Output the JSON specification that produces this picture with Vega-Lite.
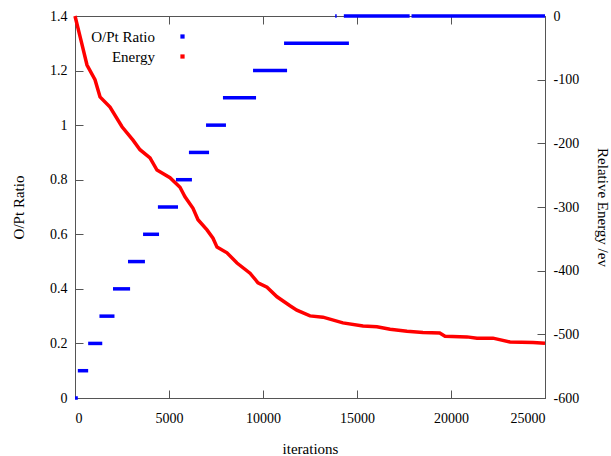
{
  "$schema": "https://vega.github.io/schema/vega-lite/v6.json",
  "width": 470,
  "height": 382,
  "autosize": {"type": "none"},
  "padding": {"left": 75, "top": 16, "right": 66, "bottom": 58},
  "background": "white",
  "config": {
    "font": "Liberation Serif",
    "view": {"stroke": "#555", "strokeWidth": 1},
    "axis": {
      "grid": false,
      "domainColor": "#555",
      "tickColor": "#555",
      "tickSize": -8,
      "labelFont": "Liberation Serif",
      "labelFontSize": 14,
      "labelColor": "#000",
      "titleFont": "Liberation Serif",
      "titleFontSize": 15,
      "titleFontWeight": "normal",
      "titleColor": "#000",
      "labelPadding": 16
    },
    "legend": {
      "labelFont": "Liberation Serif",
      "labelFontSize": 15,
      "labelColor": "#000"
    }
  },
  "datasets": {
    "ratio": [
      {"series": "O/Pt Ratio", "start": 0, "end": 150, "ratio": 0.0},
      {"series": "O/Pt Ratio", "start": 150, "end": 700, "ratio": 0.1},
      {"series": "O/Pt Ratio", "start": 700, "end": 1450, "ratio": 0.2},
      {"series": "O/Pt Ratio", "start": 1300, "end": 2100, "ratio": 0.3},
      {"series": "O/Pt Ratio", "start": 2020, "end": 2930, "ratio": 0.4},
      {"series": "O/Pt Ratio", "start": 2820, "end": 3720, "ratio": 0.5},
      {"series": "O/Pt Ratio", "start": 3620, "end": 4470, "ratio": 0.6},
      {"series": "O/Pt Ratio", "start": 4410, "end": 5480, "ratio": 0.7},
      {"series": "O/Pt Ratio", "start": 5370, "end": 6220, "ratio": 0.8},
      {"series": "O/Pt Ratio", "start": 6060, "end": 7130, "ratio": 0.9},
      {"series": "O/Pt Ratio", "start": 6970, "end": 8030, "ratio": 1.0},
      {"series": "O/Pt Ratio", "start": 7870, "end": 9630, "ratio": 1.1},
      {"series": "O/Pt Ratio", "start": 9470, "end": 11280, "ratio": 1.2},
      {"series": "O/Pt Ratio", "start": 11120, "end": 14570, "ratio": 1.3},
      {"series": "O/Pt Ratio", "start": 13840, "end": 13920, "ratio": 1.4},
      {"series": "O/Pt Ratio", "start": 14300, "end": 17800, "ratio": 1.4},
      {"series": "O/Pt Ratio", "start": 17900, "end": 25000, "ratio": 1.4}
    ],
    "energy": [
      {"series": "Energy", "iter": 0, "energy": 0},
      {"series": "Energy", "iter": 300, "energy": -36},
      {"series": "Energy", "iter": 638, "energy": -77},
      {"series": "Energy", "iter": 1064, "energy": -100},
      {"series": "Energy", "iter": 1330, "energy": -127},
      {"series": "Energy", "iter": 1862, "energy": -143},
      {"series": "Energy", "iter": 2500, "energy": -174},
      {"series": "Energy", "iter": 3085, "energy": -195},
      {"series": "Energy", "iter": 3457, "energy": -210},
      {"series": "Energy", "iter": 3990, "energy": -223},
      {"series": "Energy", "iter": 4360, "energy": -242},
      {"series": "Energy", "iter": 5053, "energy": -254},
      {"series": "Energy", "iter": 5585, "energy": -269},
      {"series": "Energy", "iter": 5851, "energy": -284},
      {"series": "Energy", "iter": 6277, "energy": -302},
      {"series": "Energy", "iter": 6543, "energy": -320},
      {"series": "Energy", "iter": 7021, "energy": -336},
      {"series": "Energy", "iter": 7340, "energy": -349},
      {"series": "Energy", "iter": 7553, "energy": -363},
      {"series": "Energy", "iter": 8085, "energy": -372},
      {"series": "Energy", "iter": 8617, "energy": -388},
      {"series": "Energy", "iter": 9309, "energy": -404},
      {"series": "Energy", "iter": 9734, "energy": -419},
      {"series": "Energy", "iter": 10213, "energy": -426},
      {"series": "Energy", "iter": 10745, "energy": -441},
      {"series": "Energy", "iter": 11436, "energy": -455},
      {"series": "Energy", "iter": 11800, "energy": -462},
      {"series": "Energy", "iter": 12500, "energy": -471},
      {"series": "Energy", "iter": 13190, "energy": -473},
      {"series": "Energy", "iter": 14250, "energy": -482},
      {"series": "Energy", "iter": 15320, "energy": -487},
      {"series": "Energy", "iter": 16060, "energy": -488},
      {"series": "Energy", "iter": 16760, "energy": -492},
      {"series": "Energy", "iter": 17660, "energy": -495},
      {"series": "Energy", "iter": 18510, "energy": -497},
      {"series": "Energy", "iter": 19400, "energy": -498},
      {"series": "Energy", "iter": 19680, "energy": -503},
      {"series": "Energy", "iter": 20851, "energy": -504},
      {"series": "Energy", "iter": 21383, "energy": -506},
      {"series": "Energy", "iter": 22234, "energy": -506},
      {"series": "Energy", "iter": 23138, "energy": -512},
      {"series": "Energy", "iter": 24362, "energy": -513},
      {"series": "Energy", "iter": 25000, "energy": -514}
    ]
  },
  "layer": [
    {
      "data": {"name": "ratio"},
      "mark": {"type": "rule", "strokeWidth": 3.5, "strokeCap": "butt", "clip": false},
      "encoding": {
        "x": {
          "field": "start", "type": "quantitative",
          "scale": {"domain": [0, 25000], "nice": false},
          "axis": {"orient": "bottom", "title": "iterations", "values": [0, 5000, 10000, 15000, 20000, 25000], "format": "d", "labelPadding": 21, "titlePadding": 16}
        },
        "x2": {"field": "end"},
        "y": {
          "field": "ratio", "type": "quantitative",
          "scale": {"domain": [0, 1.4], "nice": false},
          "axis": {"orient": "left", "title": "O/Pt Ratio", "values": [0, 0.2, 0.4, 0.6, 0.8, 1, 1.2, 1.4], "format": "~g", "titlePadding": 23}
        },
        "color": {
          "field": "series", "type": "nominal",
          "scale": {"domain": ["O/Pt Ratio", "Energy"], "range": ["#0000ff", "#ff0000"]},
          "legend": {
            "orient": "none", "legendX": 100, "legendY": 13,
            "title": null, "symbolType": "square", "symbolSize": 3, "symbolStrokeWidth": 2.5,
            "labelAlign": "right", "labelOffset": -35, "rowPadding": 4
          }
        }
      }
    },
    {
      "data": {"name": "energy"},
      "mark": {"type": "line", "strokeWidth": 3.5, "clip": false},
      "encoding": {
        "x": {
          "field": "iter", "type": "quantitative",
          "scale": {"domain": [0, 25000], "nice": false},
          "axis": {"orient": "top", "title": null, "labels": false, "values": [0, 5000, 10000, 15000, 20000, 25000], "domain": false}
        },
        "y": {
          "field": "energy", "type": "quantitative",
          "scale": {"domain": [-600, 0], "nice": false},
          "axis": {"orient": "right", "title": "Relative Energy /ev", "values": [-600, -500, -400, -300, -200, -100, 0], "labelExpr": "'' + datum.value", "titlePadding": 16}
        },
        "color": {"field": "series", "type": "nominal"}
      }
    }
  ],
  "resolve": {"scale": {"y": "independent"}, "axis": {"x": "independent"}}
}
